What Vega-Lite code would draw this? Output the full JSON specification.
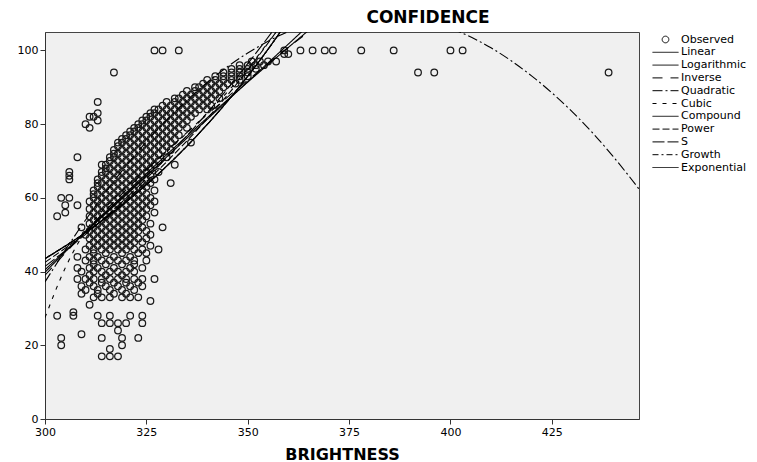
{
"$schema": "https://vega.github.io/schema/vega-lite/v6.json",
"width": 594,
"height": 387,
"autosize": {"type": "none"},
"padding": {"left": 45, "top": 32, "right": 118, "bottom": 43},
"background": "white",
"title": {"text": "CONFIDENCE", "font": "DejaVu Sans", "fontSize": 17, "fontWeight": "bold", "color": "#000", "anchor": "middle", "frame": "group", "dx": 86, "offset": 5},
"config": {
  "view": {"fill": "#f0f0f0", "stroke": "#444", "strokeWidth": 1},
  "axis": {"grid": false, "labelFont": "DejaVu Sans", "labelFontSize": 11, "labelColor": "#000", "tickColor": "#333", "tickSize": 5, "domainColor": "#333", "labelFlush": false, "labelPadding": 2, "titleFont": "DejaVu Sans", "titleFontSize": 16, "titleFontWeight": "bold", "titleColor": "#000"}
},
"datasets": {
"obs": [
{"b":314,"c":17},{"b":316,"c":17},{"b":318,"c":17},{"b":316,"c":19},{"b":304,"c":20},{"b":319,"c":20},
{"b":304,"c":22},{"b":314,"c":22},{"b":319,"c":22},{"b":323,"c":22},{"b":309,"c":23},{"b":318,"c":24},
{"b":314,"c":26},{"b":316,"c":26},{"b":318,"c":26},{"b":320,"c":26},{"b":324,"c":26},
{"b":303,"c":28},{"b":307,"c":28},{"b":313,"c":28},{"b":316,"c":28},{"b":321,"c":28},{"b":324,"c":28},
{"b":307,"c":29},{"b":311,"c":31},{"b":326,"c":32},
{"b":312,"c":33},{"b":314,"c":33},{"b":316,"c":33},{"b":319,"c":33},{"b":321,"c":33},{"b":323,"c":33},
{"b":309,"c":34},{"b":313,"c":34},{"b":317,"c":34},{"b":320,"c":34},
{"b":310,"c":35},{"b":313,"c":35},{"b":316,"c":35},{"b":319,"c":35},{"b":322,"c":35},
{"b":309,"c":36},{"b":312,"c":36},{"b":315,"c":36},{"b":318,"c":36},{"b":321,"c":36},{"b":324,"c":36},
{"b":311,"c":37},{"b":314,"c":37},{"b":317,"c":37},{"b":320,"c":37},{"b":323,"c":37},
{"b":308,"c":38},{"b":310,"c":38},{"b":312,"c":38},{"b":314,"c":38},{"b":316,"c":38},{"b":318,"c":38},{"b":320,"c":38},{"b":322,"c":38},{"b":324,"c":38},{"b":327,"c":38},
{"b":311,"c":39},{"b":315,"c":39},{"b":319,"c":39},
{"b":309,"c":40},{"b":312,"c":40},{"b":314,"c":40},{"b":316,"c":40},{"b":318,"c":40},{"b":320,"c":40},{"b":322,"c":40},
{"b":308,"c":41},{"b":311,"c":41},{"b":313,"c":41},{"b":317,"c":41},{"b":321,"c":41},{"b":324,"c":41},
{"b":312,"c":42},{"b":315,"c":42},{"b":319,"c":42},{"b":322,"c":42},
{"b":310,"c":43},{"b":312,"c":43},{"b":314,"c":43},{"b":316,"c":43},{"b":318,"c":43},{"b":320,"c":43},{"b":322,"c":43},{"b":325,"c":43},
{"b":308,"c":44},{"b":311,"c":44},{"b":313,"c":44},{"b":317,"c":44},{"b":321,"c":44},
{"b":312,"c":45},{"b":315,"c":45},{"b":319,"c":45},{"b":323,"c":45},{"b":325,"c":45},
{"b":310,"c":46},{"b":312,"c":46},{"b":314,"c":46},{"b":316,"c":46},{"b":318,"c":46},{"b":320,"c":46},{"b":322,"c":46},{"b":324,"c":46},{"b":328,"c":46},
{"b":311,"c":47},{"b":313,"c":47},{"b":315,"c":47},{"b":317,"c":47},{"b":319,"c":47},{"b":321,"c":47},{"b":326,"c":47},
{"b":312,"c":48},{"b":314,"c":48},{"b":316,"c":48},{"b":318,"c":48},{"b":320,"c":48},{"b":322,"c":48},{"b":324,"c":48},
{"b":311,"c":49},{"b":313,"c":49},{"b":315,"c":49},{"b":317,"c":49},{"b":319,"c":49},{"b":321,"c":49},{"b":323,"c":49},{"b":325,"c":49},
{"b":310,"c":50},{"b":312,"c":50},{"b":314,"c":50},{"b":316,"c":50},{"b":318,"c":50},{"b":320,"c":50},{"b":322,"c":50},{"b":326,"c":50},
{"b":311,"c":51},{"b":313,"c":51},{"b":315,"c":51},{"b":317,"c":51},{"b":319,"c":51},{"b":321,"c":51},{"b":323,"c":51},{"b":325,"c":51},
{"b":309,"c":52},{"b":312,"c":52},{"b":314,"c":52},{"b":316,"c":52},{"b":318,"c":52},{"b":320,"c":52},{"b":322,"c":52},{"b":324,"c":52},{"b":329,"c":52},
{"b":311,"c":53},{"b":313,"c":53},{"b":315,"c":53},{"b":317,"c":53},{"b":319,"c":53},{"b":321,"c":53},{"b":323,"c":53},{"b":326,"c":53},
{"b":312,"c":54},{"b":314,"c":54},{"b":316,"c":54},{"b":318,"c":54},{"b":320,"c":54},{"b":322,"c":54},{"b":324,"c":54},
{"b":303,"c":55},{"b":311,"c":55},{"b":313,"c":55},{"b":315,"c":55},{"b":317,"c":55},{"b":319,"c":55},{"b":321,"c":55},{"b":323,"c":55},{"b":325,"c":55},
{"b":305,"c":56},{"b":312,"c":56},{"b":314,"c":56},{"b":316,"c":56},{"b":318,"c":56},{"b":320,"c":56},{"b":322,"c":56},{"b":324,"c":56},{"b":327,"c":56},
{"b":311,"c":57},{"b":313,"c":57},{"b":315,"c":57},{"b":317,"c":57},{"b":319,"c":57},{"b":321,"c":57},{"b":323,"c":57},{"b":325,"c":57},
{"b":305,"c":58},{"b":308,"c":58},{"b":312,"c":58},{"b":314,"c":58},{"b":316,"c":58},{"b":318,"c":58},{"b":320,"c":58},{"b":322,"c":58},{"b":324,"c":58},{"b":326,"c":58},
{"b":311,"c":59},{"b":313,"c":59},{"b":315,"c":59},{"b":317,"c":59},{"b":319,"c":59},{"b":321,"c":59},{"b":323,"c":59},{"b":325,"c":59},{"b":327,"c":59},
{"b":304,"c":60},{"b":306,"c":60},{"b":312,"c":60},{"b":314,"c":60},{"b":316,"c":60},{"b":318,"c":60},{"b":320,"c":60},{"b":322,"c":60},{"b":324,"c":60},{"b":326,"c":60},
{"b":312,"c":61},{"b":313,"c":61},{"b":315,"c":61},{"b":317,"c":61},{"b":319,"c":61},{"b":321,"c":61},{"b":323,"c":61},{"b":325,"c":61},
{"b":312,"c":62},{"b":314,"c":62},{"b":316,"c":62},{"b":318,"c":62},{"b":320,"c":62},{"b":322,"c":62},{"b":324,"c":62},{"b":327,"c":62},
{"b":313,"c":63},{"b":315,"c":63},{"b":317,"c":63},{"b":319,"c":63},{"b":321,"c":63},{"b":323,"c":63},{"b":325,"c":63},
{"b":313,"c":64},{"b":314,"c":64},{"b":316,"c":64},{"b":318,"c":64},{"b":320,"c":64},{"b":322,"c":64},{"b":324,"c":64},{"b":326,"c":64},{"b":331,"c":64},
{"b":306,"c":65},{"b":313,"c":65},{"b":315,"c":65},{"b":317,"c":65},{"b":319,"c":65},{"b":321,"c":65},{"b":323,"c":65},{"b":325,"c":65},{"b":327,"c":65},
{"b":306,"c":66},{"b":314,"c":66},{"b":316,"c":66},{"b":318,"c":66},{"b":320,"c":66},{"b":322,"c":66},{"b":324,"c":66},{"b":326,"c":66},
{"b":306,"c":67},{"b":314,"c":67},{"b":315,"c":67},{"b":317,"c":67},{"b":319,"c":67},{"b":321,"c":67},{"b":323,"c":67},{"b":325,"c":67},{"b":328,"c":67},
{"b":315,"c":68},{"b":316,"c":68},{"b":318,"c":68},{"b":320,"c":68},{"b":322,"c":68},{"b":324,"c":68},{"b":326,"c":68},
{"b":314,"c":69},{"b":315,"c":69},{"b":317,"c":69},{"b":319,"c":69},{"b":321,"c":69},{"b":323,"c":69},{"b":325,"c":69},{"b":327,"c":69},{"b":332,"c":69},
{"b":316,"c":70},{"b":318,"c":70},{"b":320,"c":70},{"b":322,"c":70},{"b":324,"c":70},{"b":326,"c":70},{"b":328,"c":70},
{"b":308,"c":71},{"b":316,"c":71},{"b":317,"c":71},{"b":319,"c":71},{"b":321,"c":71},{"b":323,"c":71},{"b":325,"c":71},{"b":327,"c":71},{"b":330,"c":71},
{"b":317,"c":72},{"b":318,"c":72},{"b":320,"c":72},{"b":322,"c":72},{"b":324,"c":72},{"b":326,"c":72},{"b":328,"c":72},
{"b":317,"c":73},{"b":319,"c":73},{"b":321,"c":73},{"b":323,"c":73},{"b":325,"c":73},{"b":327,"c":73},{"b":329,"c":73},{"b":331,"c":73},
{"b":318,"c":74},{"b":320,"c":74},{"b":322,"c":74},{"b":324,"c":74},{"b":326,"c":74},{"b":328,"c":74},{"b":330,"c":74},
{"b":318,"c":75},{"b":319,"c":75},{"b":321,"c":75},{"b":323,"c":75},{"b":325,"c":75},{"b":327,"c":75},{"b":329,"c":75},{"b":331,"c":75},{"b":336,"c":75},
{"b":319,"c":76},{"b":320,"c":76},{"b":322,"c":76},{"b":324,"c":76},{"b":326,"c":76},{"b":328,"c":76},{"b":330,"c":76},{"b":332,"c":76},
{"b":320,"c":77},{"b":321,"c":77},{"b":323,"c":77},{"b":325,"c":77},{"b":327,"c":77},{"b":329,"c":77},{"b":331,"c":77},{"b":333,"c":77},
{"b":321,"c":78},{"b":322,"c":78},{"b":324,"c":78},{"b":326,"c":78},{"b":328,"c":78},{"b":330,"c":78},{"b":332,"c":78},
{"b":311,"c":79},{"b":322,"c":79},{"b":323,"c":79},{"b":325,"c":79},{"b":327,"c":79},{"b":329,"c":79},{"b":331,"c":79},{"b":333,"c":79},{"b":335,"c":79},
{"b":310,"c":80},{"b":323,"c":80},{"b":324,"c":80},{"b":326,"c":80},{"b":328,"c":80},{"b":330,"c":80},{"b":332,"c":80},{"b":334,"c":80},
{"b":313,"c":81},{"b":324,"c":81},{"b":325,"c":81},{"b":327,"c":81},{"b":329,"c":81},{"b":331,"c":81},{"b":333,"c":81},{"b":335,"c":81},
{"b":311,"c":82},{"b":312,"c":82},{"b":325,"c":82},{"b":326,"c":82},{"b":328,"c":82},{"b":330,"c":82},{"b":332,"c":82},{"b":334,"c":82},{"b":336,"c":82},
{"b":313,"c":83},{"b":326,"c":83},{"b":327,"c":83},{"b":329,"c":83},{"b":331,"c":83},{"b":333,"c":83},{"b":335,"c":83},{"b":337,"c":83},
{"b":327,"c":84},{"b":328,"c":84},{"b":330,"c":84},{"b":332,"c":84},{"b":334,"c":84},{"b":336,"c":84},{"b":338,"c":84},{"b":340,"c":84},
{"b":329,"c":85},{"b":331,"c":85},{"b":333,"c":85},{"b":335,"c":85},{"b":337,"c":85},{"b":339,"c":85},{"b":341,"c":85},
{"b":313,"c":86},{"b":330,"c":86},{"b":332,"c":86},{"b":334,"c":86},{"b":336,"c":86},{"b":338,"c":86},{"b":340,"c":86},
{"b":332,"c":87},{"b":333,"c":87},{"b":335,"c":87},{"b":337,"c":87},{"b":339,"c":87},{"b":341,"c":87},{"b":343,"c":87},
{"b":334,"c":88},{"b":336,"c":88},{"b":338,"c":88},{"b":340,"c":88},{"b":342,"c":88},
{"b":335,"c":89},{"b":337,"c":89},{"b":339,"c":89},{"b":341,"c":89},{"b":343,"c":89},
{"b":337,"c":90},{"b":338,"c":90},{"b":340,"c":90},{"b":342,"c":90},{"b":344,"c":90},
{"b":339,"c":91},{"b":341,"c":91},{"b":343,"c":91},{"b":345,"c":91},{"b":347,"c":91},
{"b":340,"c":92},{"b":342,"c":92},{"b":344,"c":92},{"b":346,"c":92},{"b":348,"c":92},
{"b":342,"c":93},{"b":344,"c":93},{"b":346,"c":93},{"b":348,"c":93},{"b":350,"c":93},
{"b":317,"c":94},{"b":344,"c":94},{"b":346,"c":94},{"b":348,"c":94},{"b":350,"c":94},{"b":392,"c":94},{"b":396,"c":94},{"b":439,"c":94},
{"b":346,"c":95},{"b":348,"c":95},{"b":350,"c":95},{"b":352,"c":95},
{"b":348,"c":96},{"b":350,"c":96},{"b":352,"c":96},{"b":354,"c":96},
{"b":351,"c":97},{"b":353,"c":97},{"b":355,"c":97},{"b":357,"c":97},
{"b":359,"c":99},{"b":360,"c":99},
{"b":327,"c":100},{"b":329,"c":100},{"b":333,"c":100},{"b":359,"c":100},{"b":363,"c":100},{"b":366,"c":100},{"b":369,"c":100},{"b":371,"c":100},{"b":378,"c":100},{"b":386,"c":100},{"b":400,"c":100},{"b":403,"c":100}
],
"fits": [
{"model":"Linear","b":300,"c":40.5},{"model":"Linear","b":320,"c":60.9},{"model":"Linear","b":340,"c":81.3},{"model":"Linear","b":360,"c":101.7},{"model":"Linear","b":370,"c":111.9},
{"model":"Logarithmic","b":300,"c":39.8},{"model":"Logarithmic","b":310,"c":50.8},{"model":"Logarithmic","b":320,"c":61.4},{"model":"Logarithmic","b":330,"c":71.7},{"model":"Logarithmic","b":340,"c":81.7},{"model":"Logarithmic","b":350,"c":91.4},{"model":"Logarithmic","b":360,"c":100.8},{"model":"Logarithmic","b":370,"c":110.0},
{"model":"Inverse","b":300,"c":39.0},{"model":"Inverse","b":310,"c":50.9},{"model":"Inverse","b":320,"c":62.2},{"model":"Inverse","b":330,"c":72.7},{"model":"Inverse","b":340,"c":82.6},{"model":"Inverse","b":350,"c":91.9},{"model":"Inverse","b":360,"c":100.8},{"model":"Inverse","b":370,"c":109.1},
{"model":"Quadratic","b":300,"c":37.2},{"model":"Quadratic","b":310,"c":54.0},{"model":"Quadratic","b":320,"c":68.7},{"model":"Quadratic","b":330,"c":81.1},{"model":"Quadratic","b":340,"c":91.3},{"model":"Quadratic","b":350,"c":99.3},{"model":"Quadratic","b":360,"c":105.1},{"model":"Quadratic","b":370,"c":108.7},{"model":"Quadratic","b":380,"c":110.0},{"model":"Quadratic","b":390,"c":109.1},{"model":"Quadratic","b":400,"c":106.0},{"model":"Quadratic","b":410,"c":100.7},{"model":"Quadratic","b":420,"c":93.1},{"model":"Quadratic","b":430,"c":83.4},{"model":"Quadratic","b":440,"c":71.4},{"model":"Quadratic","b":446.5,"c":62.4},
{"model":"Cubic","b":300,"c":27.5},{"model":"Cubic","b":305,"c":41.0},{"model":"Cubic","b":310,"c":51.0},{"model":"Cubic","b":315,"c":57.5},{"model":"Cubic","b":320,"c":63.0},{"model":"Cubic","b":330,"c":72.5},{"model":"Cubic","b":340,"c":83.0},{"model":"Cubic","b":350,"c":95.0},{"model":"Cubic","b":357,"c":105.0},{"model":"Cubic","b":360,"c":109.0},
{"model":"Compound","b":300,"c":43.5},{"model":"Compound","b":310,"c":50.6},{"model":"Compound","b":320,"c":58.9},{"model":"Compound","b":330,"c":68.6},{"model":"Compound","b":340,"c":79.9},{"model":"Compound","b":350,"c":93.0},{"model":"Compound","b":360,"c":108.2},{"model":"Compound","b":370,"c":126.0},
{"model":"Power","b":300,"c":42.5},{"model":"Power","b":310,"c":50.4},{"model":"Power","b":320,"c":59.4},{"model":"Power","b":330,"c":69.8},{"model":"Power","b":340,"c":81.5},{"model":"Power","b":350,"c":94.7},{"model":"Power","b":360,"c":109.7},{"model":"Power","b":370,"c":126.5},
{"model":"S","b":300,"c":41.4},{"model":"S","b":310,"c":50.1},{"model":"S","b":320,"c":59.9},{"model":"S","b":330,"c":70.9},{"model":"S","b":340,"c":83.05},{"model":"S","b":350,"c":96.4},{"model":"S","b":360,"c":111.0},{"model":"S","b":370,"c":126.8},
{"model":"Growth","b":300,"c":43.5},{"model":"Growth","b":310,"c":50.6},{"model":"Growth","b":320,"c":58.9},{"model":"Growth","b":330,"c":68.6},{"model":"Growth","b":340,"c":79.9},{"model":"Growth","b":350,"c":93.0},{"model":"Growth","b":360,"c":108.2},{"model":"Growth","b":370,"c":126.0},
{"model":"Exponential","b":300,"c":43.5},{"model":"Exponential","b":310,"c":50.6},{"model":"Exponential","b":320,"c":58.9},{"model":"Exponential","b":330,"c":68.6},{"model":"Exponential","b":340,"c":79.9},{"model":"Exponential","b":350,"c":93.0},{"model":"Exponential","b":360,"c":108.2},{"model":"Exponential","b":370,"c":126.0}
]
},
"layer": [
{
 "data": {"name": "obs"},
 "mark": {"type": "point", "shape": "circle", "filled": false, "size": 44, "color": "#1a1a1a", "strokeWidth": 1.25, "opacity": 1, "clip": true},
 "encoding": {
  "x": {"field": "b", "type": "quantitative", "scale": {"domain": [300, 446.5], "nice": false, "zero": false}, "axis": {"values": [300, 325, 350, 375, 400, 425], "title": "BRIGHTNESS", "titlePadding": 9}},
  "y": {"field": "c", "type": "quantitative", "scale": {"domain": [0, 105], "nice": false, "zero": false}, "axis": {"values": [0, 20, 40, 60, 80, 100], "title": null}}
 }
},
{
 "data": {"name": "fits"},
 "mark": {"type": "line", "clip": true, "color": "#000", "strokeWidth": 1.1, "interpolate": "monotone"},
 "encoding": {
  "x": {"field": "b", "type": "quantitative"},
  "y": {"field": "c", "type": "quantitative"},
  "strokeDash": {
   "field": "model", "type": "nominal",
   "scale": {
    "domain": ["Observed", "Linear", "Logarithmic", "Inverse", "Quadratic", "Cubic", "Compound", "Power", "S", "Growth", "Exponential"],
    "range": [[1, 0], [1, 0], [1, 0], [10, 8], [10, 3, 2, 3], [4, 6], [1, 0], [7, 3], [12, 3], [6, 3, 2, 3], [1, 0]]
   },
   "legend": {
    "title": null, "orient": "right", "offset": 19, "padding": 2,
    "symbolType": "M-2.6,0H2.6", "symbolSize": 100, "symbolStrokeColor": "#000", "symbolStrokeWidth": 1, "symbolFillColor": "transparent",
    "labelFont": "DejaVu Sans", "labelFontSize": 11, "labelColor": "#000", "labelOffset": 10, "rowPadding": 0.8,
    "encode": {"symbols": {"update": {
      "shape": {"signal": "datum.value === 'Observed' ? 'circle' : 'M-2.6,0H2.6'"},
      "size": {"signal": "datum.value === 'Observed' ? 44 : 100"},
      "fill": {"value": "transparent"},
      "stroke": {"value": "#000"}
    }}}
   }
  }
 }
}
]
}
